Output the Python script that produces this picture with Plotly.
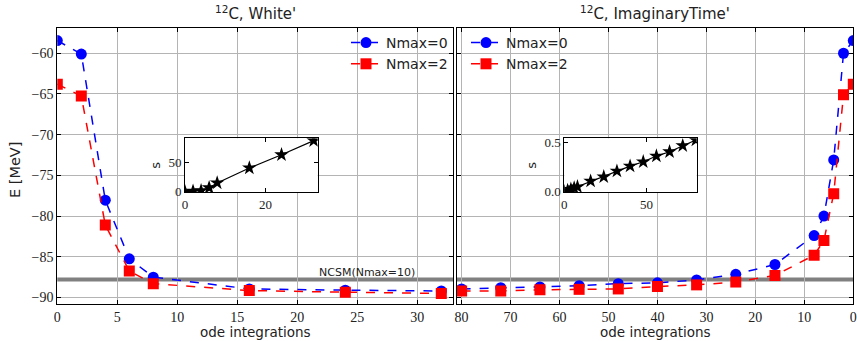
import plotly.graph_objects as go

# ---- data -------------------------------------------------------------
white_steps = [0, 2, 4, 6, 8, 16, 24, 32]
white_nmax0 = [-58.45, -60.1, -78.05, -85.25, -87.5, -88.95, -89.1, -89.2]
white_nmax2 = [-63.8, -65.25, -81.1, -86.75, -88.3, -89.15, -89.35, -89.5]
white_time = [0, 1.0, 1.8, 6.8, 15.0, 40.5, 63.0, 87.0]

imag_steps = [80, 72, 64, 56, 48, 40, 32, 24, 16, 8, 6, 4, 2, 0]
imag_nmax0 = [-88.95, -88.8, -88.7, -88.55, -88.3, -88.2, -87.85, -87.15,
              -85.95, -82.4, -80.0, -73.1, -60.0, -58.45]
imag_nmax2 = [-89.2, -89.2, -89.05, -89.0, -88.95, -88.65, -88.45, -88.1,
              -87.3, -84.8, -83.0, -77.25, -65.1, -63.8]
imag_time = [0.527, 0.47, 0.408, 0.364, 0.306, 0.262, 0.211, 0.153,
             0.109, 0.051, 0.039, 0.026, 0.013, 0.0]

ncsm_energy = -87.8
ncsm_label = "NCSM(Nmax=10)"
series_names = ["Nmax=0", "Nmax=2"]
panel_titles = ["<sup>12</sup>C, White'", "<sup>12</sup>C, ImaginaryTime'"]
x_title = "ode integrations"
y_title = "E [MeV]"

W, H = 857, 341


def px(x):
    return x / W


def py(y):
    return 1 - y / H


SERIF = "Liberation Serif"
SANS = "DejaVu Sans"
GRID = "#b4b4b4"
TXT = "#222"

fig = go.Figure()

# main curves
for xa, ya, steps, e0, e2, leg in [
    ("x", "y", white_steps, white_nmax0, white_nmax2, "legend"),
    ("x2", "y2", imag_steps, imag_nmax0, imag_nmax2, "legend2"),
]:
    fig.add_trace(go.Scatter(
        x=steps, y=e0, mode="lines+markers", name=series_names[0],
        line=dict(color="#0000ff", dash="dash", width=1.5),
        marker=dict(symbol="circle", size=11, color="#0000ff"),
        xaxis=xa, yaxis=ya, legend=leg))
    fig.add_trace(go.Scatter(
        x=steps, y=e2, mode="lines+markers", name=series_names[1],
        line=dict(color="#ff0000", dash="dash", width=1.5),
        marker=dict(symbol="square", size=11, color="#ff0000"),
        xaxis=xa, yaxis=ya, legend=leg))

# timing insets
fig.add_trace(go.Scatter(
    x=white_steps, y=white_time, mode="lines+markers", showlegend=False,
    line=dict(color="black", width=1.2),
    marker=dict(symbol="star", size=11, color="black"),
    xaxis="x3", yaxis="y3"))
fig.add_trace(go.Scatter(
    x=imag_steps, y=imag_time, mode="lines+markers", showlegend=False,
    line=dict(color="black", width=1.2),
    marker=dict(symbol="star", size=11, color="black"),
    xaxis="x4", yaxis="y4"))

main_y_range = [-90.8, -56.9]
y_dom = [py(304), py(28)]
inset_y_dom = [py(192.3), py(138.3)]


def axis_style(size):
    return dict(
        showline=True, linecolor="black", linewidth=1, mirror="allticks",
        ticks="inside", ticklen=4, tickcolor="black",
        tickfont=dict(family=SERIF, size=size, color=TXT),
        zeroline=False,
    )


s_title = dict(text="s", font=dict(family=SANS, size=13, color=TXT), standoff=4)
legend_style = dict(xanchor="left", yanchor="top", bgcolor="rgba(0,0,0,0)",
                    font=dict(family=SANS, size=14, color=TXT), tracegroupgap=0)

fig.update_layout(
    width=W, height=H,
    margin=dict(l=0, r=0, t=0, b=0, autoexpand=False),
    paper_bgcolor="white", plot_bgcolor="white",
    xaxis=dict(domain=[px(57.3), px(453.3)], range=[0, 33], dtick=5,
               anchor="y", showgrid=True, gridcolor=GRID, gridwidth=1,
               **axis_style(14)),
    yaxis=dict(domain=y_dom, range=main_y_range, dtick=5, anchor="x",
               showgrid=True, gridcolor=GRID, gridwidth=1, **axis_style(14)),
    xaxis2=dict(domain=[px(456.7), px(853.3)], range=[81, 0], dtick=10,
                anchor="y2", showgrid=True, gridcolor=GRID, gridwidth=1,
                **axis_style(14)),
    yaxis2=dict(domain=y_dom, range=main_y_range, dtick=5, anchor="x2",
                showgrid=True, gridcolor=GRID, gridwidth=1,
                showticklabels=False, **axis_style(14)),
    xaxis3=dict(domain=[px(185), px(317.7)], range=[0, 33], dtick=20,
                anchor="y3", showgrid=False, **axis_style(13)),
    yaxis3=dict(domain=inset_y_dom, range=[-1, 91], dtick=50, anchor="x3",
                showgrid=False, title=s_title, **axis_style(13)),
    xaxis4=dict(domain=[px(564.3), px(696.7)], range=[0, 80.5], dtick=50,
                anchor="y4", showgrid=False, **axis_style(13)),
    yaxis4=dict(domain=inset_y_dom, range=[-0.005, 0.545], dtick=0.5,
                tickformat=".1f", anchor="x4", showgrid=False,
                title=s_title, **axis_style(13)),
    legend=dict(x=px(346), y=py(27), **legend_style),
    legend2=dict(x=px(466), y=py(27), **legend_style),
    showlegend=True,
)

# NCSM reference energy across both panels
for xr, yr in [("x domain", "y"), ("x2 domain", "y2")]:
    fig.add_shape(type="line", xref=xr, yref=yr, x0=0, x1=1,
                  y0=ncsm_energy, y1=ncsm_energy,
                  line=dict(color="#808080", width=4), layer="below")

fig.add_annotation(x=30, y=ncsm_energy, xref="x", yref="y",
                   text=ncsm_label, showarrow=False, xanchor="right",
                   yanchor="bottom", yshift=-1,
                   font=dict(family=SANS, size=11, color=TXT))

# panel titles and x-axis titles
for cx, t in [((57.3 + 453.3) / 2, panel_titles[0]), ((456.7 + 853.3) / 2, panel_titles[1])]:
    fig.add_annotation(x=px(cx), y=py(13), xref="paper", yref="paper",
                       text=t, showarrow=False, xanchor="center", yanchor="middle",
                       font=dict(family=SANS, size=15, color=TXT))
    fig.add_annotation(x=px(cx), y=py(332), xref="paper", yref="paper",
                       text=x_title, showarrow=False,
                       xanchor="center", yanchor="middle",
                       font=dict(family=SANS, size=13.5, color=TXT))

fig.add_annotation(x=px(15), y=py(170), xref="paper", yref="paper",
                   text=y_title, showarrow=False, textangle=-90,
                   xanchor="center", yanchor="middle",
                   font=dict(family=SANS, size=14.5, color=TXT))

fig.write_html("out.html")
